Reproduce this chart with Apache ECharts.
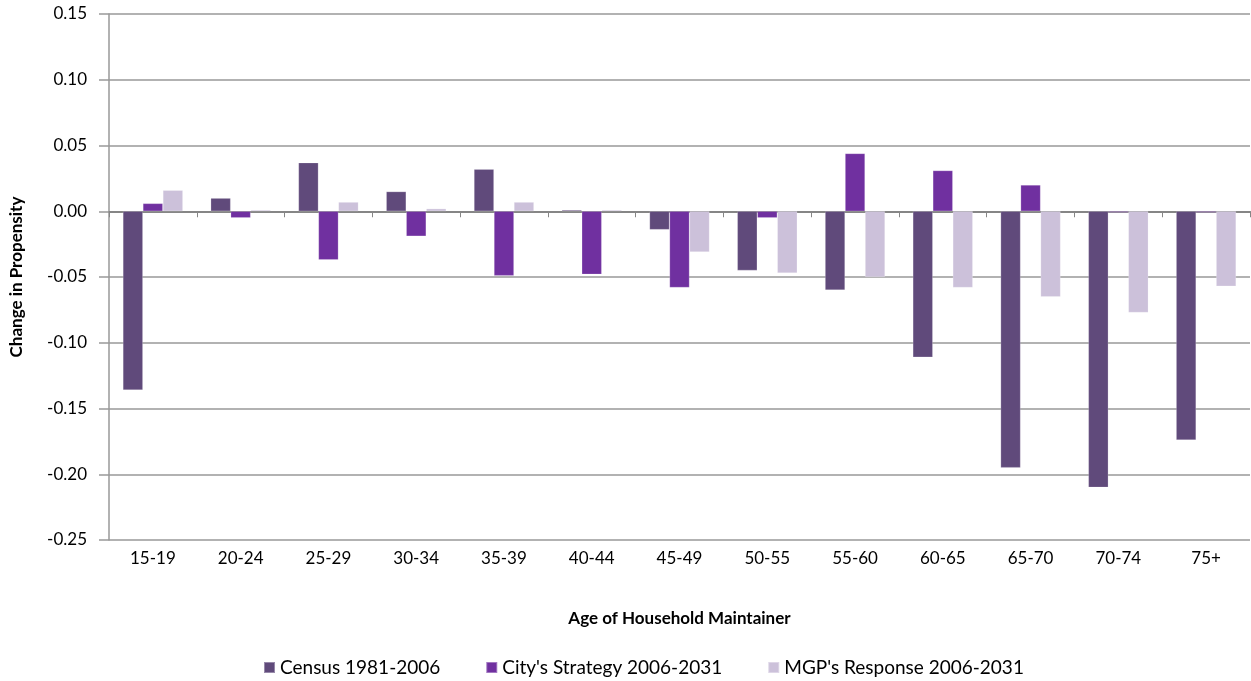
<!DOCTYPE html>
<html>
<head>
<meta charset="utf-8">
<script src="https://cdn.jsdelivr.net/npm/echarts@6/dist/echarts.min.js"></script>
<style>
  html, body { margin: 0; padding: 0; background: #ffffff; }
  #chart { width: 1251px; height: 681px; }
</style>
</head>
<body>
<div id="chart"></div>
<script>
// Age groups of the household maintainer
const categories = ['15-19', '20-24', '25-29', '30-34', '35-39', '40-44', '45-49',
                    '50-55', '55-60', '60-65', '65-70', '70-74', '75+'];

// Change in household maintainer propensity by age group
const census = [-0.136, 0.010, 0.037, 0.015, 0.032, 0.001, -0.014,
                -0.045, -0.060, -0.111, -0.195, -0.210, -0.174];
const cityStrategy = [0.006, -0.005, -0.037, -0.019, -0.049, -0.048, -0.058,
                      -0.005, 0.044, 0.031, 0.020, -0.001, -0.001];
const mgpResponse = [0.016, 0.001, 0.007, 0.002, 0.007, 0.001, -0.031,
                     -0.047, -0.050, -0.058, -0.065, -0.077, -0.057];

const seriesNames = ['Census 1981-2006', "City's Strategy 2006-2031", "MGP's Response 2006-2031"];
const seriesColors = ['#604a7b', '#7030a0', '#ccc1da'];

const FONT = 'Lato, "Noto Sans", sans-serif';
const GRID_COLOR = '#999999';

const chart = echarts.init(document.getElementById('chart'), null, { renderer: 'canvas' });

function barSeries(name, data, color) {
  return {
    name: name,
    type: 'bar',
    xAxisIndex: 0,
    yAxisIndex: 0,
    data: data,
    barWidth: 20,
    barGap: '0%',
    itemStyle: { color: color, borderColor: 'rgba(255,255,255,0.35)', borderWidth: 0.6 },
    emphasis: { disabled: true }
  };
}

chart.setOption({
  animation: false,
  backgroundColor: '#ffffff',
  textStyle: { fontFamily: FONT },
  grid: { left: 107, right: 1, top: 14, height: 526 },
  legend: {
    top: 653,
    left: 258,
    icon: 'rect',
    itemWidth: 11,
    itemHeight: 11,
    itemGap: 45,
    textStyle: { fontFamily: FONT, fontSize: 19, color: '#000000' },
    data: seriesNames
  },
  xAxis: [
    {
      // zero line with boundary ticks
      type: 'category',
      data: categories,
      position: 'bottom',
      boundaryGap: true,
      axisLine: { show: true, onZero: true, lineStyle: { color: '#868686', width: 2 } },
      axisTick: { show: true, length: 6, lineStyle: { color: '#868686', width: 1 } },
      axisLabel: { show: false },
      splitLine: { show: false }
    },
    {
      // category labels along the bottom of the plot
      type: 'category',
      data: categories,
      position: 'bottom',
      boundaryGap: true,
      axisLine: { show: false, onZero: false },
      axisTick: { show: false },
      axisLabel: { show: true, margin: 10, fontFamily: FONT, fontSize: 17, color: '#000000' },
      splitLine: { show: false },
      name: 'Age of Household Maintainer',
      nameLocation: 'middle',
      nameGap: 70,
      nameTextStyle: { fontFamily: FONT, fontSize: 17, fontWeight: 'bold', color: '#000000' }
    }
  ],
  yAxis: {
    type: 'value',
    min: -0.25,
    max: 0.15,
    interval: 0.05,
    axisLine: { show: true, lineStyle: { color: GRID_COLOR, width: 1.5 } },
    axisTick: { show: true, length: 10, lineStyle: { color: GRID_COLOR, width: 1.5 } },
    axisLabel: {
      margin: 22,
      fontFamily: FONT,
      fontSize: 17,
      color: '#000000',
      formatter: v => v.toFixed(2)
    },
    splitLine: { show: true, lineStyle: { color: GRID_COLOR, width: 1.5 } },
    name: 'Change in Propensity',
    nameLocation: 'middle',
    nameGap: 84,
    nameRotate: 90,
    nameTextStyle: { fontFamily: FONT, fontSize: 17, fontWeight: 'bold', color: '#000000' }
  },
  series: [
    barSeries(seriesNames[0], census, seriesColors[0]),
    barSeries(seriesNames[1], cityStrategy, seriesColors[1]),
    barSeries(seriesNames[2], mgpResponse, seriesColors[2])
  ]
});
</script>
</body>
</html>
